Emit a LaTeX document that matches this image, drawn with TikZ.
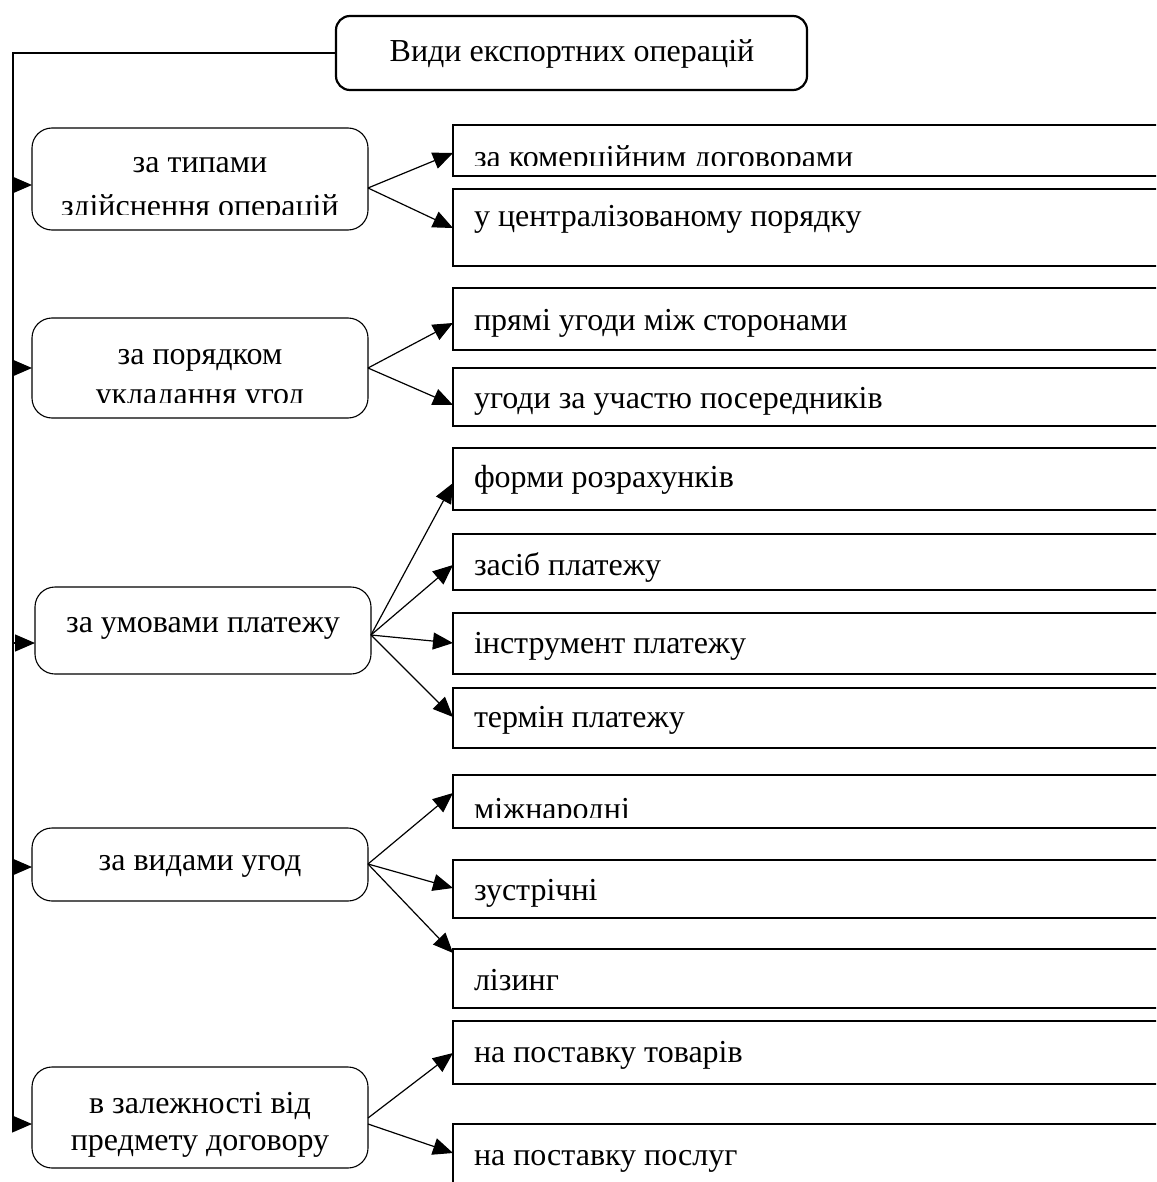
\documentclass[tikz,border=0pt]{standalone}
\usepackage{fontspec}
\setmainfont{Liberation Serif}
\usetikzlibrary{arrows.meta}
\begin{document}
\begin{tikzpicture}[x=1pt,y=-1pt,
  every node/.style={inner sep=0pt, outer sep=0pt},
  txt/.style={font=\fontsize{32}{38}\selectfont},
  catbox/.style={draw, line width=1.1pt, rounded corners=20pt, anchor=north west, minimum width=336pt},
  optbox/.style={draw, line width=1.3pt, anchor=north west, minimum width=740pt},
  titlebox/.style={draw, line width=2.2pt, rounded corners=14pt, anchor=north west, minimum width=471pt, minimum height=74pt},
  arr/.style={line width=1.2pt, -{Triangle[length=20pt,width=17pt]}},
  ln/.style={line width=1.2pt},
]
\clip (0,0) rectangle (1156,1182);
\fill[white] (0,0) rectangle (1156,1182);

% title
\node[titlebox] (title) at (336,16) {};
\node[txt, anchor=base] (titlet) at (572,62) {Види експортних операцій};

% category boxes
\node[catbox, minimum height=102pt] (c1) at (32,128) {};
\node[catbox, minimum height=100pt] (c2) at (32,318) {};
\node[catbox, minimum height=87pt]  (c3) at (35,587) {};
\node[catbox, minimum height=73pt]  (c4) at (32,828) {};
\node[catbox, minimum height=101pt] (c5) at (32,1067) {};

% category texts
\node[txt, anchor=base] (c1a) at (200,173) {за типами};
\begin{scope}
  \clip (32,128) rectangle (368,215);
  \node[txt, anchor=base] (c1b) at (200,217) {здійснення операцій};
\end{scope}
\node[txt, anchor=base] (c2a) at (200,364) {за порядком};
\begin{scope}
  \clip (32,318) rectangle (368,402);
  \node[txt, anchor=base] (c2b) at (200,404) {укладання угод};
\end{scope}
\node[txt, anchor=base] (c3a) at (203,632) {за умовами платежу};
\node[txt, anchor=base] (c4a) at (200,870) {за видами угод};
\node[txt, anchor=base] (c5a) at (200,1113) {в залежності від};
\node[txt, anchor=base] (c5b) at (200,1150) {предмету договору};

% option boxes
\node[optbox, minimum height=51pt] (a1) at (453,125) {};
\node[optbox, minimum height=77pt] (a2) at (453,189) {};
\node[optbox, minimum height=62pt] (b1) at (453,288) {};
\node[optbox, minimum height=58pt] (b2) at (453,368) {};
\node[optbox, minimum height=62pt] (k1) at (453,448) {};
\node[optbox, minimum height=56pt] (k2) at (453,534) {};
\node[optbox, minimum height=61pt] (k3) at (453,613) {};
\node[optbox, minimum height=60pt] (k4) at (453,688) {};
\node[optbox, minimum height=53pt] (d1) at (453,775) {};
\node[optbox, minimum height=58pt] (d2) at (453,860) {};
\node[optbox, minimum height=59pt] (d3) at (453,949) {};
\node[optbox, minimum height=63pt] (e1) at (453,1021) {};
\node[optbox, minimum height=90pt] (e2) at (453,1124) {};

% option texts
\begin{scope}
  \clip (453,125) rectangle (1156,166);
  \node[txt, anchor=base west] (a1t) at (474,168) {за комерційним договорами};
\end{scope}
\node[txt, anchor=base west] (a2t) at (474,226) {у централізованому порядку};
\node[txt, anchor=base west] (b1t) at (474,330) {прямі угоди між сторонами};
\node[txt, anchor=base west] (b2t) at (474,408) {угоди за участю посередників};
\node[txt, anchor=base west] (k1t) at (474,487) {форми розрахунків};
\node[txt, anchor=base west] (k2t) at (474,575) {засіб платежу};
\node[txt, anchor=base west] (k3t) at (474,653) {інструмент платежу};
\node[txt, anchor=base west] (k4t) at (474,727) {термін платежу};
\begin{scope}
  \clip (453,775) rectangle (1156,817);
  \node[txt, anchor=base west] (d1t) at (474,819) {міжнародні};
\end{scope}
\node[txt, anchor=base west] (d2t) at (474,900) {зустрічні};
\node[txt, anchor=base west] (d3t) at (474,990) {лізинг};
\node[txt, anchor=base west] (e1t) at (474,1062) {на поставку товарів};
\node[txt, anchor=base west] (e2t) at (474,1165) {на поставку послуг};

% left trunk
\coordinate (L) at (13,53);
\coordinate (Lb) at (13,1124);
\draw[ln] (title.west |- L) -- (L) -- (Lb);
\draw[arr] (L |- 0,185) -- (c1.west |- 0,185);
\draw[arr] (L |- 0,368) -- (c2.west |- 0,368);
\draw[arr] (L |- 0,643) -- (c3.west |- 0,643);
\draw[arr] (L |- 0,867) -- (c4.west |- 0,867);
\draw[arr] (L |- 0,1124) -- (c5.west |- 0,1124);

% branch origins
\coordinate (o1) at (c1.east |- 0,188);
\coordinate (o2) at (c2.east |- 0,368);
\coordinate (o3) at (c3.east |- 0,635);
\coordinate (o4) at (c4.east |- 0,864);
\coordinate (o5) at (c5.east |- 0,1118);
\coordinate (o5b) at (c5.east |- 0,1124);

\draw[arr] (o1) -- (a1.west |- 0,153);
\draw[arr] (o1) -- (a2.west |- 0,228);
\draw[arr] (o2) -- (b1.west |- 0,323);
\draw[arr] (o2) -- (b2.west |- 0,405);
\draw[arr] (o3) -- (k1.west |- 0,483);
\draw[arr] (o3) -- (k2.west |- 0,565);
\draw[arr] (o3) -- (k3.west |- 0,643);
\draw[arr] (o3) -- (k4.west |- 0,717);
\draw[arr] (o4) -- (d1.west |- 0,793);
\draw[arr] (o4) -- (d2.west |- 0,888);
\draw[arr] (o4) -- (d3.west |- 0,953);
\draw[arr] (o5) -- (e1.west |- 0,1053);
\draw[arr] (o5b) -- (e2.west |- 0,1153);
\end{tikzpicture}
\end{document}
